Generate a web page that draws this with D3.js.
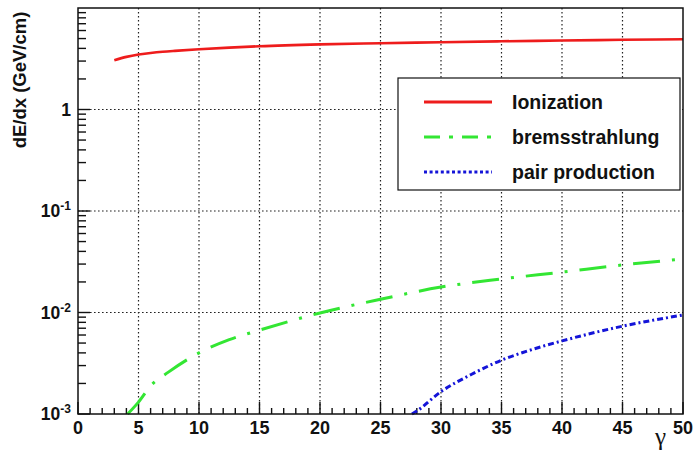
<!DOCTYPE html>
<html>
<head>
<meta charset="utf-8">
<script src="https://cdn.jsdelivr.net/npm/d3@7"></script>
<style>
  html, body { margin: 0; padding: 0; background: #fff; }
  svg { display: block; font-family: "Liberation Sans", Arial, sans-serif; }
</style>
</head>
<body>
<svg id="chart" width="695" height="450"></svg>
<script>
// Energy loss of a muon vs. Lorentz factor gamma
const ionGamma = [3, 4, 5, 6, 7, 8, 10, 12.5, 15, 20, 25, 30, 35, 40, 45, 50];
const ionLoss  = [3.05, 3.3, 3.48, 3.6, 3.7, 3.78, 3.92, 4.07, 4.2, 4.38, 4.5, 4.6, 4.7, 4.78, 4.86, 4.93];

const bremGamma = [4.1, 5, 6, 7.5, 10, 12.5, 15, 20, 25, 30, 35, 40, 45, 50];
const bremLoss  = [0.001, 0.00131, 0.00189, 0.0026, 0.004, 0.0054, 0.0067, 0.0099, 0.0135, 0.0178, 0.0214, 0.025, 0.0294, 0.0337];

const pairGamma = [27.6, 28, 30, 32.5, 35, 37.5, 40, 45, 50];
const pairLoss  = [0.001, 0.00107, 0.00166, 0.00245, 0.00339, 0.00431, 0.00525, 0.00733, 0.00944];

const xTicks = [0, 5, 10, 15, 20, 25, 30, 35, 40, 45, 50];
const yDecades = [-3, -2, -1, 0];   // labelled powers of ten
const legendLabels = ["Ionization", "bremsstrahlung", "pair production"];
const xTitle = "\u03b3";
const yTitle = "dE/dx (GeV/cm)";

const L = 78, R = 683, T = 8, B = 414;
const svg = d3.select("#chart");

const x = d3.scaleLinear().domain([0, 50]).range([L, R]);
const y = d3.scaleLog().domain([1e-3, 10]).range([B, T]);

// grid (dotted)
const grid = svg.append("g").attr("stroke", "#222").attr("stroke-width", 1.2)
  .attr("stroke-dasharray", "1.6,2.4");
xTicks.filter(v => v > 0 && v < 50).forEach(v => {
  grid.append("line").attr("x1", x(v)).attr("x2", x(v)).attr("y1", T).attr("y2", B);
});
[1e-2, 1e-1, 1].forEach(v => {
  grid.append("line").attr("x1", L).attr("x2", R).attr("y1", y(v)).attr("y2", y(v));
});

// ticks
const ticks = svg.append("g").attr("stroke", "#111").attr("stroke-width", 1.4);
d3.range(0, 51, 1).forEach(v => {
  const len = v % 5 === 0 ? 12 : 6;
  ticks.append("line").attr("x1", x(v)).attr("x2", x(v)).attr("y1", B).attr("y2", B - len);
});
for (let p = -3; p <= 0; p++) {
  for (let m = 1; m <= 9; m++) {
    const v = m * Math.pow(10, p);
    const len = m === 1 ? 12 : 8;
    ticks.append("line").attr("x1", L).attr("x2", L + len).attr("y1", y(v)).attr("y2", y(v));
  }
}

// curves
const line = d3.line().x(d => x(d[0])).y(d => y(d[1])).curve(d3.curveMonotoneX);
const plot = svg.append("g");
plot.append("path").datum(d3.zip(ionGamma, ionLoss))
  .attr("d", line).attr("fill", "none").attr("stroke", "#ee1c1c").attr("stroke-width", 2.6);
plot.append("path").datum(d3.zip(bremGamma, bremLoss))
  .attr("d", line).attr("fill", "none").attr("stroke", "#33e633").attr("stroke-width", 3)
  .attr("stroke-dasharray", "27,12,3,12");
plot.append("path").datum(d3.zip(pairGamma, pairLoss))
  .attr("d", line).attr("fill", "none").attr("stroke", "#1414d8").attr("stroke-width", 3)
  .attr("stroke-dasharray", "6,3,2,3");

// frame
svg.append("rect").attr("x", L).attr("y", T).attr("width", R - L).attr("height", B - T)
  .attr("fill", "none").attr("stroke", "#111").attr("stroke-width", 1.5);

// x tick labels
svg.append("g").selectAll("text").data(xTicks).join("text")
  .attr("x", d => x(d)).attr("y", 434).attr("text-anchor", "middle")
  .attr("font-size", 18).attr("font-weight", "bold").attr("fill", "#111")
  .text(d => d);

// y tick labels
const yl = svg.append("g").attr("font-weight", "bold").attr("fill", "#111");
yDecades.forEach(p => {
  const t = yl.append("text").attr("x", 71).attr("y", y(Math.pow(10, p)) + 6)
    .attr("text-anchor", "end").attr("font-size", 17.5);
  if (p === 0) {
    t.text("1");
  } else {
    t.append("tspan").text("10");
    t.append("tspan").attr("font-size", 12).attr("dy", -7).text(String(p));
  }
});

// axis titles
svg.append("text").attr("x", 655).attr("y", 445).attr("font-size", 25)
  .attr("font-family", "Liberation Serif, serif").attr("fill", "#111").text(xTitle);
svg.append("text").attr("transform", "translate(26,80) rotate(-90)")
  .attr("text-anchor", "middle").attr("font-size", 18.5).attr("font-weight", "bold")
  .attr("fill", "#111").text(yTitle);

// legend
const lg = svg.append("g");
lg.append("rect").attr("x", 398).attr("y", 78).attr("width", 282).attr("height", 112)
  .attr("fill", "#fff").attr("stroke", "#111").attr("stroke-width", 1.2);
const legendStyles = [
  { color: "#ee1c1c", dash: null },
  { color: "#33e633", dash: "16,9,4,9" },
  { color: "#1414d8", dash: "3,2.6" }
];
legendLabels.forEach((lab, i) => {
  const cy = 102 + i * 35;
  const st = legendStyles[i];
  const ln = lg.append("line").attr("x1", 424).attr("x2", 492).attr("y1", cy).attr("y2", cy)
    .attr("stroke", st.color).attr("stroke-width", 3);
  if (st.dash) ln.attr("stroke-dasharray", st.dash);
  lg.append("text").attr("x", 512).attr("y", cy + 7).attr("font-size", 19.5)
    .attr("font-weight", "bold").attr("fill", "#111").text(lab);
});
</script>
</body>
</html>
